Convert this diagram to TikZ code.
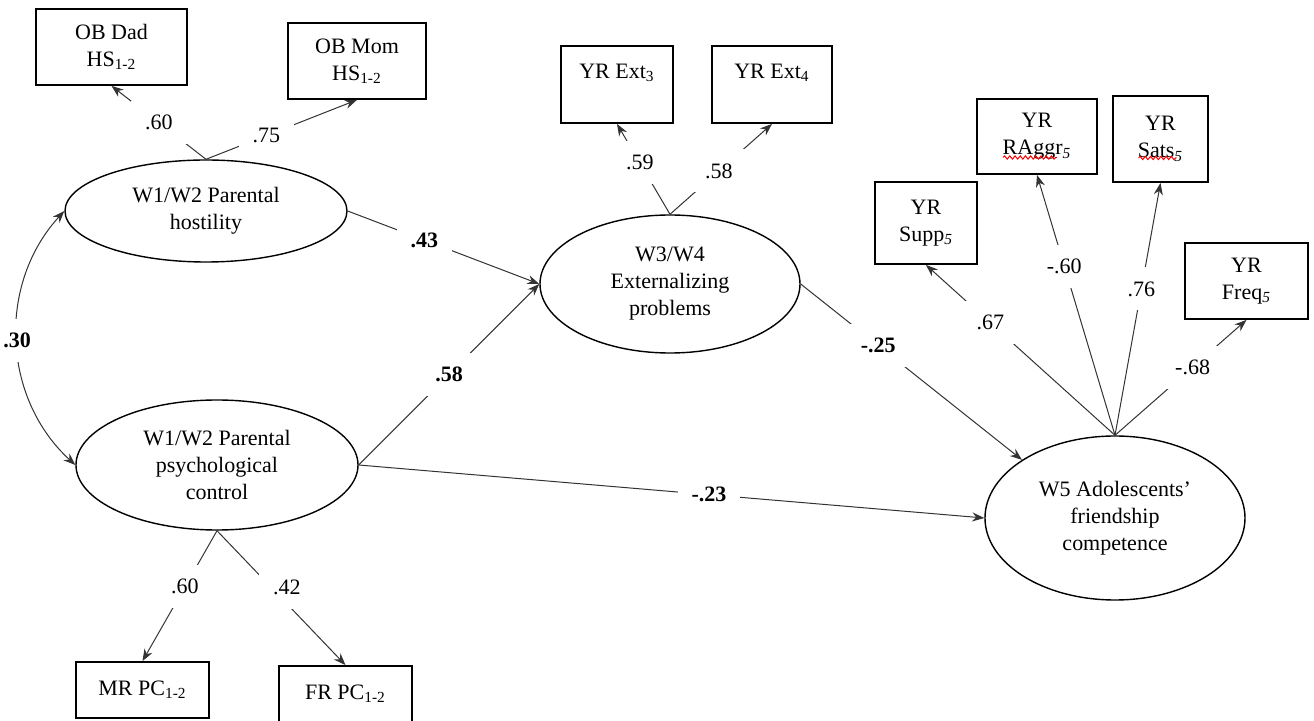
\documentclass[tikz,border=0pt]{standalone}
\usepackage{fontspec}
\setmainfont{Liberation Serif}
\usetikzlibrary{shapes.geometric,arrows.meta,decorations.pathmorphing}

\begin{document}
\begin{tikzpicture}[x=0.5pt,y=-0.5pt,>={Stealth[length=6pt,width=4.5pt]},
  every node/.style={font=\fontsize{11}{13.5}\selectfont},
  obs/.style={draw,line width=0.9pt,rectangle,align=center,inner sep=0pt},
  lat/.style={draw,ellipse,align=center,inner sep=0pt,line width=0.7pt},
  load/.style={draw=black!80,line width=0.5pt,->},
  est/.style={fill=white,inner sep=7pt},
  spell/.style={red,line width=0.5pt,decorate,decoration={snake,segment length=2.6pt,amplitude=0.8pt}}]
\useasboundingbox (0,0) rectangle (1314,721);
% latent variables
\node[lat,minimum width=141pt,minimum height=51pt] (host) at (206,211) {W1/W2 Parental\\hostility};
\node[lat,minimum width=141pt,minimum height=65pt] (psych) at (217,465) {W1/W2 Parental\\psychological\\control};
\node[lat,minimum width=130pt,minimum height=69pt] (ext) at (670,284) {W3/W4\\Externalizing\\problems};
\node[lat,minimum width=130pt,minimum height=82pt] (w5) at (1115,518) {W5 Adolescents'\\friendship\\competence};
% indicators
\node[obs,minimum width=75.5pt,minimum height=38pt] (dad) at (111.5,47) {OB Dad\\HS\textsubscript{1-2}};
\node[obs,minimum width=69pt,minimum height=38pt] (mom) at (357,61) {OB Mom\\HS\textsubscript{1-2}};
\node[obs,minimum width=56pt,minimum height=38.5pt] (ext3) at (617,84.5) {YR Ext\textsubscript{3}\\\mbox{}};
\node[obs,minimum width=60pt,minimum height=38.5pt] (ext4) at (772,84.5) {YR Ext\textsubscript{4}\\\mbox{}};
\node[obs,minimum width=51pt,minimum height=41pt] (supp) at (926,223) {YR\\Supp\textsubscript{\itshape 5}};
\node[obs,minimum width=60pt,minimum height=37.5pt] (raggr) at (1037,136.5) {YR\\RAggr\textsubscript{\itshape 5}};
\node[obs,minimum width=47.5pt,minimum height=43pt] (sats) at (1160.5,139) {YR\\Sats\textsubscript{\itshape 5}};
\node[obs,minimum width=61.5pt,minimum height=38pt] (freq) at (1246.5,281) {YR\\Freq\textsubscript{\itshape 5}};
\node[obs,minimum width=66.5pt,minimum height=28pt] (mr) at (142.5,690) {MR PC\textsubscript{1-2}};
\node[obs,minimum width=66.5pt,minimum height=28pt] (fr) at (345.5,694) {FR PC\textsubscript{1-2}};
% spelling marks
\draw[spell] ([shift={(-34,21)}]raggr.center) -- ([shift={(20,21)}]raggr.center);
\draw[spell] ([shift={(-22,19)}]sats.center) -- ([shift={(16,19)}]sats.center);
% loadings
\draw[load] (host.north) -- node[est,pos=0.5] {.60} (dad.south);
\draw[load] (host.north) -- node[est,pos=0.4] {.75} (mom.south);
\draw[load] (ext.north) -- node[est,pos=0.57] {.59} (ext3.south);
\draw[load] (ext.north) -- node[est,pos=0.48] {.58} (ext4.south);
\draw[load] (w5.north) -- node[est,pos=0.66] {.67} (supp.south);
\draw[load] (w5.north) -- node[est,pos=0.65] {-.60} (raggr.south);
\draw[load] (w5.north) -- node[est,pos=0.58] {.76} (sats.south);
\draw[load] (w5.north) -- node[est,pos=0.59] {-.68} (freq.south);
\draw[load] (psych.south) -- node[est,pos=0.43] {.60} (mr.north);
\draw[load] (psych.south) -- node[est,pos=0.42,xshift=8pt] {.42} (fr.north);
% structural paths
\draw[load] (host.east) -- node[est,pos=0.4] {\textbf{.43}} (ext.west);
\draw[load] (psych.east) -- node[est,pos=0.5] {\textbf{.58}} (ext.west);
\draw[load] (psych.east) -- node[est,pos=0.56] {\textbf{-.23}} (w5.west);
\draw[load] (ext.east) -- node[est,pos=0.35] {\textbf{-.25}} (w5.148);
\draw[load,<->] (host.west) to[bend right=45] node[est] {\textbf{.30}} (psych.west);
\end{tikzpicture}
\end{document}
